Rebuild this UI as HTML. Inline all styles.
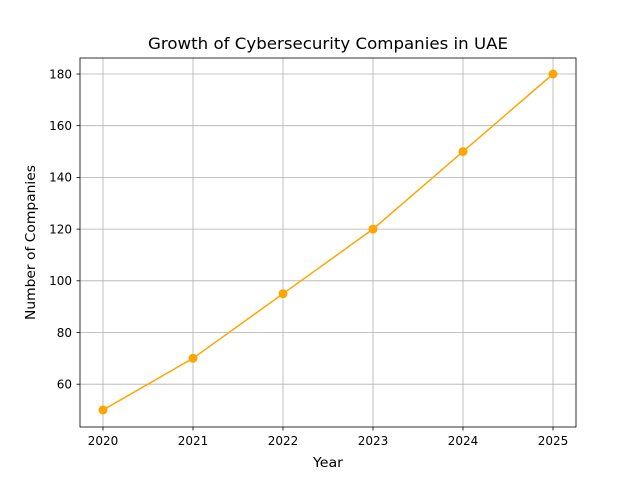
<!DOCTYPE html>
<html><head><meta charset="utf-8"><style>
html,body{margin:0;padding:0;background:#fff;}
svg{display:block;font-family:"DejaVu Sans","Liberation Sans",sans-serif;}
</style></head><body>
<svg width="640" height="480" viewBox="0 0 640 480" xmlns="http://www.w3.org/2000/svg">
<rect width="640" height="480" fill="#fff"/>
<g stroke="#b0b0b0" stroke-width="0.8">
<line x1="103" y1="58" x2="103" y2="427"/>
<line x1="193" y1="58" x2="193" y2="427"/>
<line x1="283" y1="58" x2="283" y2="427"/>
<line x1="373" y1="58" x2="373" y2="427"/>
<line x1="463" y1="58" x2="463" y2="427"/>
<line x1="553" y1="58" x2="553" y2="427"/>
<line x1="80" y1="384.2" x2="576" y2="384.2"/>
<line x1="80" y1="332.5" x2="576" y2="332.5"/>
<line x1="80" y1="280.8" x2="576" y2="280.8"/>
<line x1="80" y1="229.1" x2="576" y2="229.1"/>
<line x1="80" y1="177.4" x2="576" y2="177.4"/>
<line x1="80" y1="125.7" x2="576" y2="125.7"/>
<line x1="80" y1="74" x2="576" y2="74"/>
</g>
<rect x="80" y="58" width="496" height="369" fill="none" stroke="#000" stroke-width="0.8"/>
<g stroke="#000" stroke-width="0.8">
<line x1="103" y1="427" x2="103" y2="430.5"/>
<line x1="193" y1="427" x2="193" y2="430.5"/>
<line x1="283" y1="427" x2="283" y2="430.5"/>
<line x1="373" y1="427" x2="373" y2="430.5"/>
<line x1="463" y1="427" x2="463" y2="430.5"/>
<line x1="553" y1="427" x2="553" y2="430.5"/>
<line x1="76.5" y1="384.2" x2="80" y2="384.2"/>
<line x1="76.5" y1="332.5" x2="80" y2="332.5"/>
<line x1="76.5" y1="280.8" x2="80" y2="280.8"/>
<line x1="76.5" y1="229.1" x2="80" y2="229.1"/>
<line x1="76.5" y1="177.4" x2="80" y2="177.4"/>
<line x1="76.5" y1="125.7" x2="80" y2="125.7"/>
<line x1="76.5" y1="74" x2="80" y2="74"/>
</g>
<g font-size="12" fill="#000" text-anchor="middle">
<text x="103" y="445">2020</text>
<text x="193" y="445">2021</text>
<text x="283" y="445">2022</text>
<text x="373" y="445">2023</text>
<text x="463" y="445">2024</text>
<text x="553" y="445">2025</text>
</g>
<g font-size="12" fill="#000" text-anchor="end">
<text x="72" y="388.5">60</text>
<text x="72" y="336.8">80</text>
<text x="72" y="285.1">100</text>
<text x="72" y="233.4">120</text>
<text x="72" y="181.7">140</text>
<text x="72" y="130">160</text>
<text x="72" y="78.3">180</text>
</g>
<text x="313" y="467" font-size="13" textLength="30" lengthAdjust="spacingAndGlyphs">Year</text>
<text x="0" y="0" font-size="13" textLength="155" lengthAdjust="spacingAndGlyphs" transform="translate(35,320) rotate(-90)">Number of Companies</text>
<text x="148" y="49" font-size="16" textLength="360" lengthAdjust="spacingAndGlyphs">Growth of Cybersecurity Companies in UAE</text>
<polyline points="103,410 193,358.3 283,293.7 373,229.1 463,151.6 553,74" fill="none" stroke="#ffa500" stroke-width="1.5"/>
<g fill="#ffa500">
<circle cx="103" cy="410" r="4.5"/>
<circle cx="193" cy="358.3" r="4.5"/>
<circle cx="283" cy="293.7" r="4.5"/>
<circle cx="373" cy="229.1" r="4.5"/>
<circle cx="463" cy="151.6" r="4.5"/>
<circle cx="553" cy="74" r="4.5"/>
</g>
</svg>
</body></html>
